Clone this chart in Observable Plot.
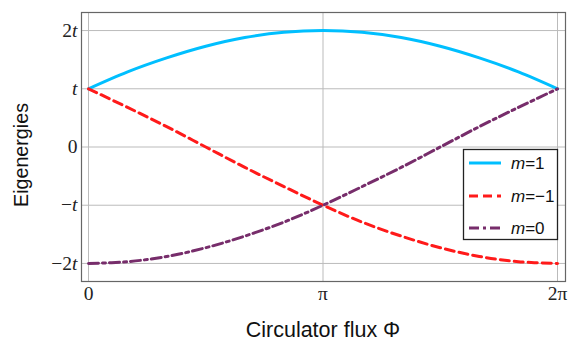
<!DOCTYPE html>
<html>
<head>
<meta charset="utf-8">
<script src="https://cdn.jsdelivr.net/npm/d3@7"></script>
<script src="https://cdn.jsdelivr.net/npm/@observablehq/plot@0.6"></script>
<style>
  html, body { margin: 0; padding: 0; background: #fff; }
  #chart { width: 581px; height: 349px; }
</style>
</head>
<body>
<div id="chart"></div>
<script>
// Φ samples (in units of π/6, from 0 to 2π)
const phiSteps = [0, 1, 2, 3, 4, 5, 6, 7, 8, 9, 10, 11, 12];
// Eigenergies in units of t
const mPlus1  = [1.00, 1.29, 1.53, 1.73, 1.88, 1.97, 2.00, 1.97, 1.88, 1.73, 1.53, 1.29, 1.00];
const mMinus1 = [1.00, 0.68, 0.35, 0.00, -0.35, -0.68, -1.00, -1.29, -1.53, -1.73, -1.88, -1.97, -2.00];
const mZero   = [-2.00, -1.97, -1.88, -1.73, -1.53, -1.29, -1.00, -0.68, -0.35, 0.00, 0.35, 0.68, 1.00];

const seriesNames = ["m=1", "m=−1", "m=0"];
const seriesValues = [mPlus1, mMinus1, mZero];
const seriesColors = ["#00bfff", "#ff1a1a", "#772d6b"];
const seriesDash = [null, "9,5", "10,4,3,4"];

const yTickValues = [-2, -1, 0, 1, 2];
const yTickLabels = ["−2t", "−t", "0", "t", "2t"];
const xTickValues = [0, Math.PI, 2 * Math.PI];
const xTickLabels = ["0", "π", "2π"];

const rows = [];
seriesValues.forEach((vals, s) => {
  vals.forEach((v, i) => rows.push({series: s, phi: phiSteps[i] * Math.PI / 6, E: v}));
});

const lineMarks = seriesValues.map((vals, s) =>
  Plot.line(rows.filter(d => d.series === s), {
    x: "phi", y: "E", stroke: seriesColors[s], strokeWidth: 3,
    strokeDasharray: seriesDash[s], curve: "catmull-rom"
  })
);

const chart = Plot.plot({
  width: 581,
  height: 349,
  marginLeft: 81,
  marginRight: 16,
  marginTop: 12,
  marginBottom: 68,
  style: {background: "#fff"},
  x: {domain: [-0.094, 2 * Math.PI + 0.107]},
  y: {domain: [-2.31, 2.31]},
  marks: [
    Plot.gridX(xTickValues, {stroke: "#bbbbbb", strokeOpacity: 1, strokeWidth: 1}),
    Plot.gridY(yTickValues, {stroke: "#bbbbbb", strokeOpacity: 1, strokeWidth: 1}),
    Plot.axisY(yTickValues, {
      tickSize: 0, tickPadding: 4, label: null,
      tickFormat: (d) => yTickLabels[yTickValues.indexOf(d)],
      fontFamily: "Liberation Serif", fontSize: 19.5, fill: "#222"
    }),
    Plot.axisX(xTickValues, {
      tickSize: 0, tickPadding: 5, label: null,
      tickFormat: (d) => xTickLabels[xTickValues.indexOf(d)],
      fontFamily: "Liberation Serif", fontSize: 19.5, fill: "#222"
    }),
    ...lineMarks,
    Plot.frame({stroke: "#666", strokeWidth: 1.2})
  ]
});

document.getElementById("chart").appendChild(chart);

const svg = d3.select(chart);
// italicize the "t" in tick labels
svg.selectAll("g[aria-label='y-axis tick label'] text").each(function() {
  const txt = this.textContent;
  const sel = d3.select(this);
  if (txt.includes("t")) {
    const pre = txt.replace("t", "");
    sel.text(null);
    if (pre) sel.append("tspan").text(pre);
    sel.append("tspan").attr("font-style", "italic").text("t");
  }
});

// axis titles
svg.append("text")
  .attr("transform", "translate(28,155) rotate(-90)")
  .attr("text-anchor", "middle")
  .attr("font-family", "Liberation Sans, Arial, sans-serif")
  .attr("font-size", 19.7)
  .attr("fill", "#111")
  .text("Eigenergies");

svg.append("text")
  .attr("x", 323).attr("y", 337)
  .attr("text-anchor", "middle")
  .attr("font-family", "Liberation Sans, Arial, sans-serif")
  .attr("font-size", 21.5)
  .attr("fill", "#111")
  .text("Circulator flux Φ");

// legend
const lg = svg.append("g");
lg.append("rect")
  .attr("x", 463.5).attr("y", 149.5).attr("width", 94).attr("height", 90)
  .attr("fill", "#fff").attr("stroke", "#222").attr("stroke-width", 1.3);
const rowY = [163, 196, 228];
seriesNames.forEach((name, i) => {
  lg.append("line")
    .attr("x1", 469).attr("x2", 501).attr("y1", rowY[i]).attr("y2", rowY[i])
    .attr("stroke", seriesColors[i]).attr("stroke-width", 3)
    .attr("stroke-dasharray", seriesDash[i]);
  const t = lg.append("text")
    .attr("x", 511).attr("y", rowY[i] + 6)
    .attr("text-anchor", "start")
    .attr("font-family", "Liberation Sans, Arial, sans-serif")
    .attr("font-size", 17).attr("fill", "#111");
  t.append("tspan").attr("font-style", "italic").text("m");
  t.append("tspan").text(name.slice(1));
});
</script>
</body>
</html>
